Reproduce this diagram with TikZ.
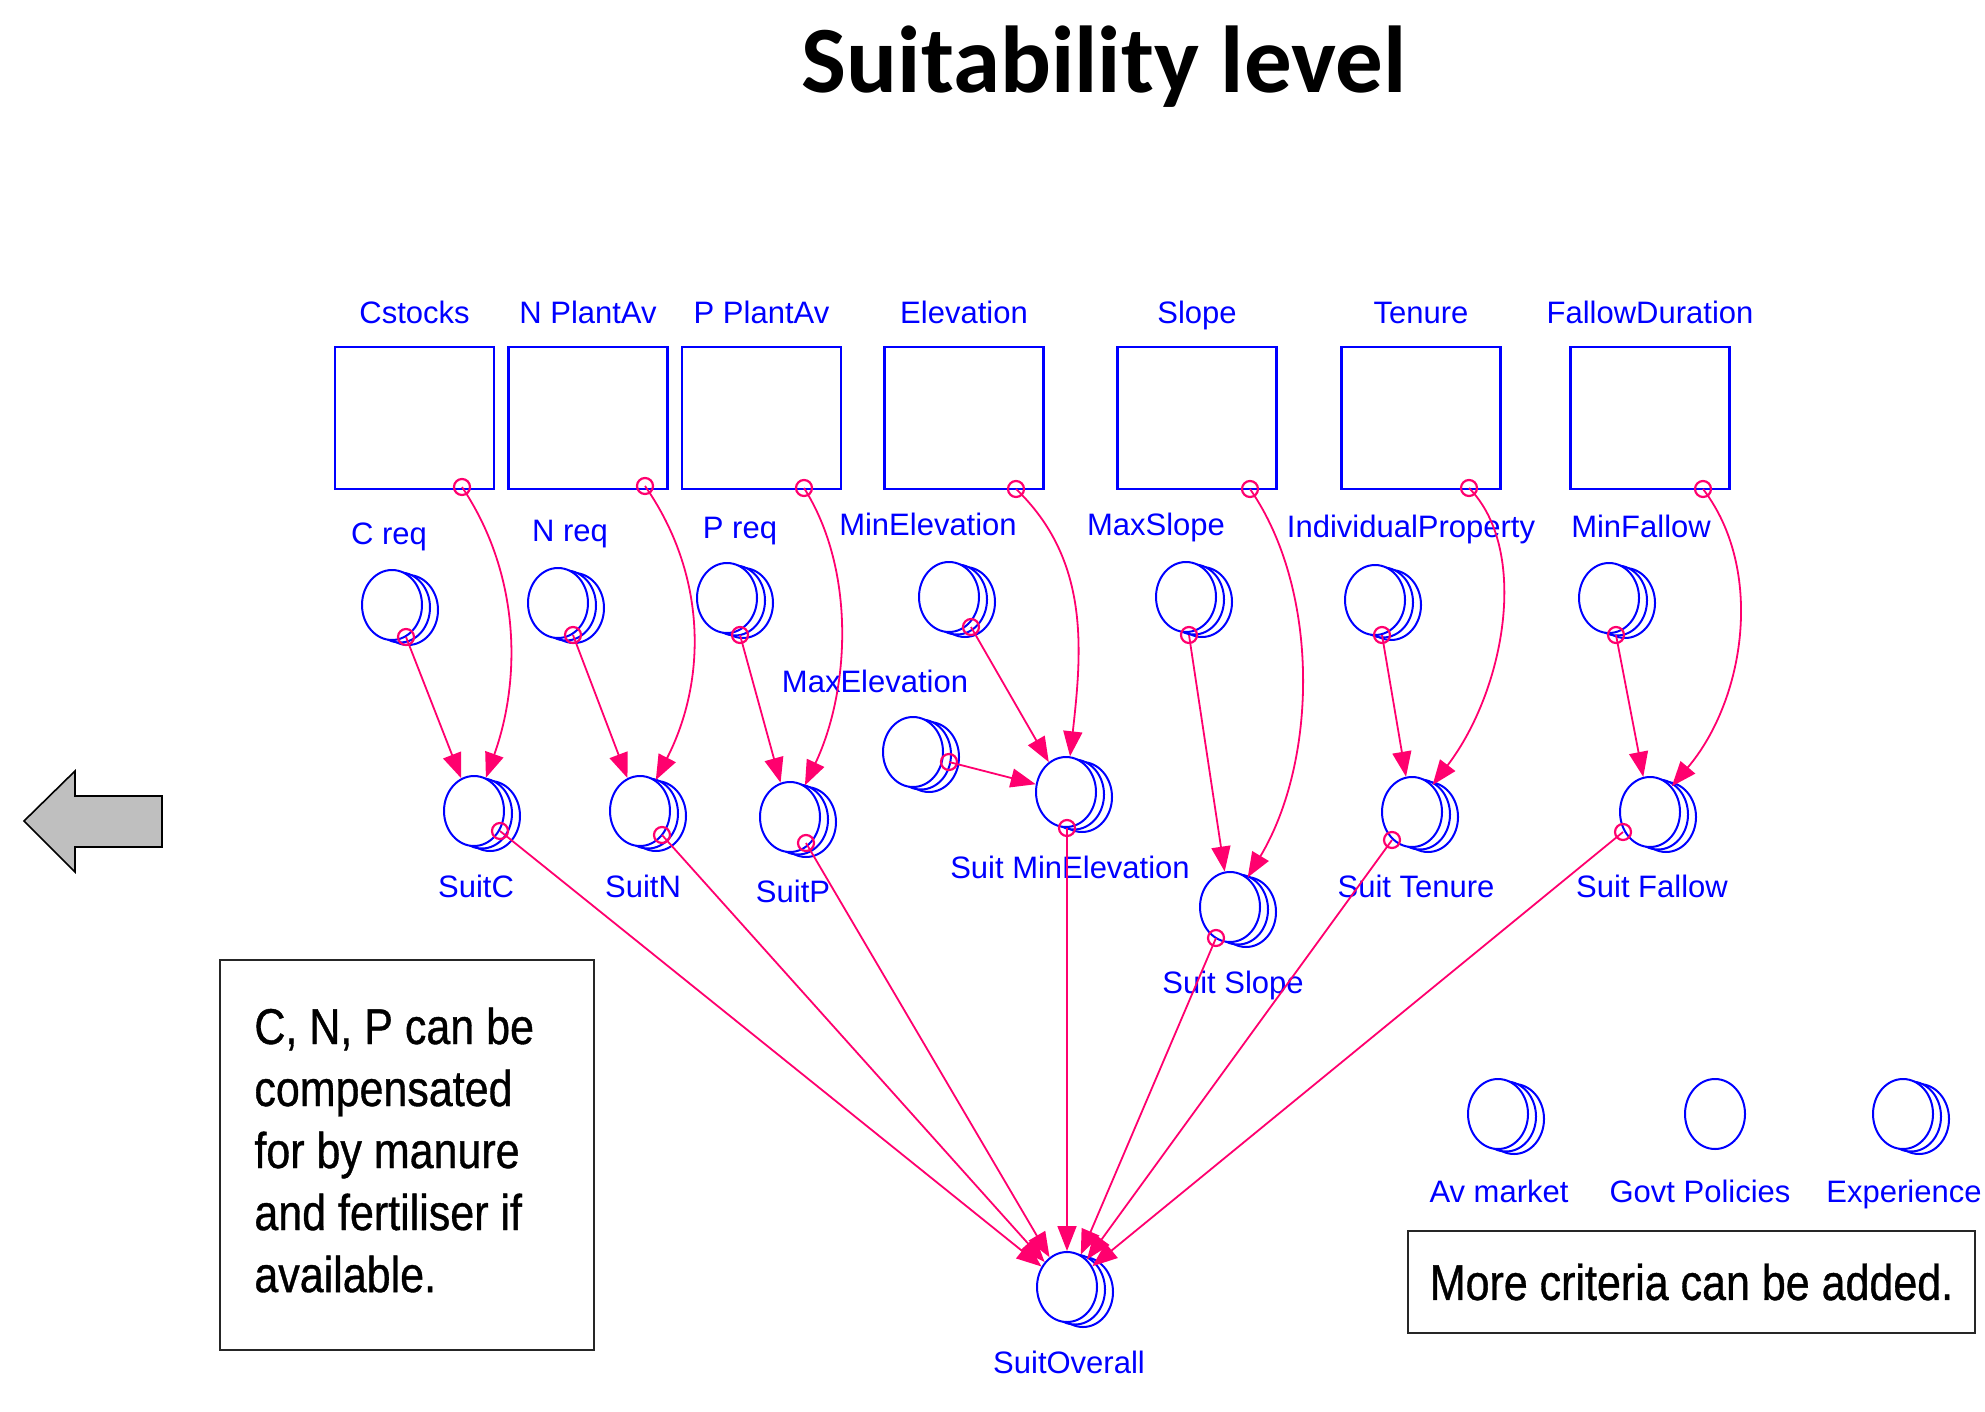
\documentclass[tikz,border=0pt]{standalone}
\usepackage{fontspec}
\setmainfont{Liberation Sans}
\newfontfamily\titlefont{Carlito}
\newfontfamily\notefamily{Liberation Sans}[FakeBold=0.8]
\usetikzlibrary{shapes.geometric,arrows.meta}
\definecolor{sblue}{RGB}{0,0,255}
\definecolor{spink}{RGB}{255,0,110}
\definecolor{agray}{RGB}{191,191,191}
\newcommand\lblfont{\fontsize{15.5pt}{18pt}\selectfont}
\newcommand\notefont{\notefamily\fontsize{21.5pt}{26.5pt}\selectfont}
\newcommand\stretchtext[1]{\scalebox{1}[1.17]{#1}}
% array converter: copies behind, named main node on top
\newcommand\arrconv[2]{%
  \filldraw[arrcopy] ([shift={(16,5)}]#2) ellipse [x radius=15pt, y radius=17.5pt];
  \filldraw[arrcopy] ([shift={(8,2.5)}]#2) ellipse [x radius=15pt, y radius=17.5pt];
  \node[conv] (#1) at (#2) {};}
\begin{document}
\begin{tikzpicture}[x=0.5pt,y=-0.5pt,
  stock/.style={draw=sblue, line width=1.3pt, minimum width=79.5pt, minimum height=71pt, inner sep=0pt},
  conv/.style={ellipse, draw=sblue, line width=1pt, fill=white, minimum width=30pt, minimum height=35pt, inner sep=0pt},
  arrcopy/.style={draw=sblue, line width=1pt, fill=white},
  lbl/.style={text=sblue, font=\lblfont, inner sep=0pt, anchor=base},
  ring/.style={circle, draw=spink, line width=1.1pt, minimum size=8pt, inner sep=0pt},
  link/.style={draw=spink, line width=0.9pt, -{Triangle[length=12.5pt,width=9.5pt]}},
  notebox/.style={draw=black!85, line width=1pt, inner sep=0pt}]
\useasboundingbox (0,0) rectangle (1985,1412);

% title
\node[inner sep=0pt, anchor=base, font={\titlefont\bfseries\fontsize{47.5pt}{50pt}\selectfont}] (title) at (1104,93) {Suitability level};

% stocks
\node[stock] (Cst) at (414.5,418) {};
\node[stock] (NPl) at (588,418) {};
\node[stock] (PPl) at (761.5,418) {};
\node[stock] (Elev) at (964,418) {};
\node[stock] (Slope) at (1197,418) {};
\node[stock] (Ten) at (1421,418) {};
\node[stock] (Fal) at (1650,418) {};
\node[lbl] (lCst) at (414.5,323) {Cstocks};
\node[lbl] (lNPl) at (588,323) {N PlantAv};
\node[lbl] (lPPl) at (761.5,323) {P PlantAv};
\node[lbl] (lElev) at (964,323) {Elevation};
\node[lbl] (lSlope) at (1197,323) {Slope};
\node[lbl] (lTen) at (1421,323) {Tenure};
\node[lbl] (lFal) at (1650,323) {FallowDuration};

% requirement converters
\arrconv{Creq}{392,605}
\arrconv{Nreq}{558,603}
\arrconv{Preq}{727,598}
\arrconv{MinEl}{949,597}
\arrconv{MaxSl}{1186,597}
\arrconv{IndP}{1375,600}
\arrconv{MinFa}{1609,598}
\arrconv{MaxEl}{913,752}
\node[lbl] (lCreq) at (389,544) {C req};
\node[lbl] (lNreq) at (570,541) {N req};
\node[lbl] (lPreq) at (740,538) {P req};
\node[lbl] (lMinEl) at (928,535) {MinElevation};
\node[lbl] (lMaxSl) at (1156,535) {MaxSlope};
\node[lbl] (lIndP) at (1411,537) {IndividualProperty};
\node[lbl] (lMinFa) at (1641,537) {MinFallow};
\node[lbl] (lMaxEl) at (875,692) {MaxElevation};

% suitability converters
\arrconv{SuitC}{474,811}
\arrconv{SuitN}{640,811}
\arrconv{SuitP}{790,817}
\arrconv{SuitME}{1066,792}
\arrconv{SuitS}{1230,907}
\arrconv{SuitT}{1412,812}
\arrconv{SuitF}{1650,812}
\arrconv{SuitO}{1067,1287}
\node[lbl] (lSuitC) at (476,897) {SuitC};
\node[lbl] (lSuitN) at (643,897) {SuitN};
\node[lbl] (lSuitP) at (793,902) {SuitP};
\node[lbl] (lSuitME) at (1070,878) {Suit MinElevation};
\node[lbl] (lSuitS) at (1233,993) {Suit Slope};
\node[lbl] (lSuitT) at (1416,897) {Suit Tenure};
\node[lbl] (lSuitF) at (1652,897) {Suit Fallow};
\node[lbl] (lSuitO) at (1069,1373) {SuitOverall};

% other criteria
\arrconv{AvM}{1498,1114}
\node[conv] (Govt) at (1715,1114) {};
\arrconv{Exper}{1903,1114}
\node[lbl] (lAvM) at (1499,1202) {Av market};
\node[lbl] (lGovt) at (1700,1202) {Govt Policies};
\node[lbl] (lExper) at (1904,1202) {Experience};

% rings on stocks
\node[ring] (rCst) at (462,487) {};
\node[ring] (rNPl) at (645,486) {};
\node[ring] (rPPl) at (804,488) {};
\node[ring] (rElev) at (1016,489) {};
\node[ring] (rSlope) at (1250,489) {};
\node[ring] (rTen) at (1469,488) {};
\node[ring] (rFal) at (1703,489) {};
% rings on requirement converters
\node[ring] (rCreq) at (406,637) {};
\node[ring] (rNreq) at (573,635) {};
\node[ring] (rPreq) at (740,635) {};
\node[ring] (rMinEl) at (971,627) {};
\node[ring] (rMaxSl) at (1189,635) {};
\node[ring] (rIndP) at (1382,635) {};
\node[ring] (rMinFa) at (1616,635) {};
\node[ring] (rMaxEl) at (949,762) {};
% rings on suitability converters
\node[ring] (rSuitC) at (500,831) {};
\node[ring] (rSuitN) at (662,835) {};
\node[ring] (rSuitP) at (806,843) {};
\node[ring] (rSuitME) at (1067,828) {};
\node[ring] (rSuitS) at (1216,938) {};
\node[ring] (rSuitT) at (1392,840) {};
\node[ring] (rSuitF) at (1623,832) {};

% requirement -> suitability
\draw[link] (rCreq.center) -- (SuitC);
\draw[link] (rNreq.center) -- (SuitN);
\draw[link] (rPreq.center) -- (SuitP);
\draw[link] (rMinEl.center) -- (SuitME);
\draw[link] (rMaxEl.center) -- (SuitME);
\draw[link] (rMaxSl.center) -- (SuitS);
\draw[link] (rIndP.center) -- (SuitT);
\draw[link] (rMinFa.center) -- (SuitF);

% stocks -> suitability (curved)
\draw[link] (rCst.center) .. controls (521,575) and (521,680) .. (SuitC);
\draw[link] (rNPl.center) .. controls (707,575) and (707,680) .. (SuitN);
\draw[link] (rPPl.center) .. controls (856,570) and (850,690) .. (SuitP);
\draw[link] (rElev.center) .. controls (1090,560) and (1082,650) .. (SuitME);
\draw[link] (rSlope.center) .. controls (1320,590) and (1318,760) .. (SuitS);
\draw[link] (rTen.center) .. controls (1530,550) and (1505,690) .. (SuitT);
\draw[link] (rFal.center) .. controls (1765,570) and (1745,700) .. (SuitF);

% suitability -> overall
\draw[link] (rSuitC.center) -- (SuitO);
\draw[link] (rSuitN.center) -- (SuitO);
\draw[link] (rSuitP.center) -- (SuitO);
\draw[link] (rSuitME.center) -- (SuitO);
\draw[link] (rSuitS.center) -- (SuitO);
\draw[link] (rSuitT.center) -- (SuitO);
\draw[link] (rSuitF.center) -- (SuitO);

% gray back arrow
\draw[fill=agray, draw=black, line width=0.8pt, line join=miter]
  (24,821) -- (75,771) -- (75,796) -- (162,796) -- (162,847) -- (75,847) -- (75,872) -- cycle;

% note boxes
\node[notebox, minimum width=187pt, minimum height=195pt] (cnpbox) at (407,1155) {};
\node[inner sep=0pt, anchor=base west, font=\notefont] (cnptext) at (254,1044)
  {\stretchtext{\begin{tabular}[t]{@{}l@{}}C, N, P can be\\ compensated\\ for by manure\\ and fertiliser if\\ available.\end{tabular}}};
\node[notebox, minimum width=283.5pt, minimum height=51pt, font=\notefont] (morebox) at (1691.5,1282)
  {\stretchtext{More criteria can be added.}};
\end{tikzpicture}
\end{document}
